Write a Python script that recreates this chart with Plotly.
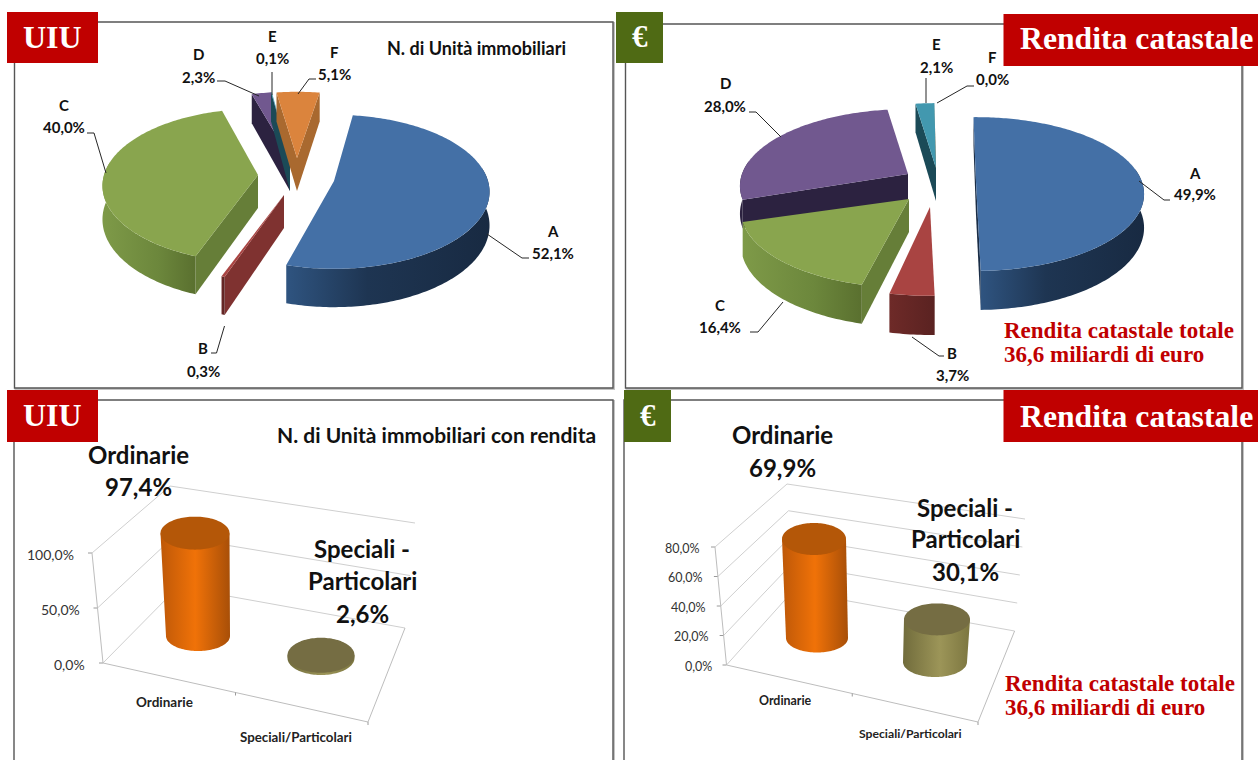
import math
import plotly.graph_objects as go

# ---------- data ----------
pie_categories = ["A", "B", "C", "D", "E", "F"]
uiu_shares = [52.1, 0.3, 40.0, 2.3, 0.1, 5.1]
rendita_shares = [49.9, 3.7, 16.4, 28.0, 2.1, 0.0]
bar_categories = ["Ordinarie", "Speciali/Particolari"]
bar_uiu = [97.4, 2.6]
bar_rendita = [69.9, 30.1]
ticks_uiu = [0, 50, 100]
ticks_rendita = [0, 20, 40, 60, 80]

TOTAL_LINES = ["Rendita catastale totale", "36,6 miliardi di euro"]
SANS = "Lato"
SERIF = "Liberation Serif"

def pct(v):
    return f"{v:.1f}".replace(".", ",") + "%"

fig = go.Figure()
annotations, shapes = [], []

def text(x, y, s, size=15, color="#111111", bold=True, font=SANS, anchor="center", yref="y"):
    annotations.append(dict(x=x, y=y, xref="x", yref=yref, text=f"<b>{s}</b>" if bold else s,
                            showarrow=False, xanchor=anchor, yanchor="middle",
                            font=dict(family=font, size=size, color=color)))

def poly(xs, ys, color=None, grad=None, yaxis="y"):
    kw = dict(fillgradient=dict(type="horizontal", colorscale=grad)) if grad else dict(fillcolor=color)
    fig.add_trace(go.Scatter(x=xs, y=ys, mode="none", fill="toself", yaxis=yaxis,
                             hoverinfo="skip", showlegend=False, **kw))

def line(xs, ys, color="#262626", width=1.0, yaxis="y"):
    fig.add_trace(go.Scatter(x=xs, y=ys, mode="lines", line=dict(color=color, width=width),
                             yaxis=yaxis, hoverinfo="skip", showlegend=False))

# ---------- panels ----------
for x0, y0, x1, y1 in [(14.5, 22, 613, 388), (625.5, 24, 1242, 388), (14, 400, 613, 775), (624, 400, 1242, 775)]:
    shapes.append(dict(type="rect", x0=x0 + 1, y0=y0 + 1, x1=x1 + 1, y1=y1 + 1, xref="x", yref="y",
                       line=dict(color="#C4C4C4", width=2), fillcolor="rgba(0,0,0,0)", layer="below"))
    shapes.append(dict(type="rect", x0=x0, y0=y0, x1=x1, y1=y1, xref="x", yref="y",
                       line=dict(color="#555555", width=1.4), fillcolor="#FFFFFF", layer="below"))
for x0, y0, x1, y1, c in [(7, 12, 98, 63, "#C00000"), (7, 390, 98, 442, "#C00000"),
                          (616, 12, 663, 63, "#4F6A14"), (624, 390, 671, 442, "#4F6A14"),
                          (1003.5, 14, 1258, 66, "#C00000"), (1003.5, 390, 1258, 442, "#C00000")]:
    shapes.append(dict(type="rect", x0=x0, y0=y0, x1=x1, y1=y1, xref="x", yref="y",
                       line=dict(width=0), fillcolor=c, layer="below"))
for x, y in [(52.5, 37), (52.5, 415)]:
    text(x, y, "UIU", size=32, color="#FFFFFF", font=SERIF)
text(640, 36, "€", size=31, color="#FFFFFF", font=SERIF)
text(647.5, 415, "€", size=31, color="#FFFFFF", font=SERIF)
for y in (38, 416):
    text(1136.5, y, "Rendita catastale", size=31.7, color="#FFFFFF", font=SERIF)
for x, y1, y2 in [(1002, 330, 354), (1003, 683, 707)]:
    text(x, y1, TOTAL_LINES[0], size=23, color="#C00000", font=SERIF, anchor="left")
    text(x, y2, TOTAL_LINES[1], size=23, color="#C00000", font=SERIF, anchor="left")

# ---------- exploded perspective pies ----------
def draw_pie(shares, rot, geom, apexes, tops, walls, grads, order, nudge=None, depths=None):
    a, b, p, base_depth = geom
    nudge, depths = nudge or {}, depths or {}
    angles, t = {}, rot
    for c, s in zip(pie_categories, shares):
        angles[c] = (t + nudge.get(c, 0), t + s * 3.6 + nudge.get(c, 0))
        t += s * 3.6
    for c in order:
        t0, t1 = angles[c]
        ax, ay = apexes[c]
        depth = depths.get(c, base_depth)

        def rim(tt):
            u, v = math.sin(math.radians(tt)), math.cos(math.radians(tt))
            w = 1 + p * v
            return ax + a * u / w, ay - b * v / w, depth / w

        def arc(s, e):
            n = max(2, int(abs(e - s)) + 1)
            return [rim(s + (e - s) * i / (n - 1)) for i in range(n)]

        def wall(tt):
            x, y, d = rim(tt)
            poly([ax, x, x, ax, ax], [ay, y, y + d, ay + depth, ay], color=walls[c])

        if math.sin(math.radians(t0)) < 0:
            wall(t0)
        if math.sin(math.radians(t1)) > 0:
            wall(t1)
        s, e = max(t0, 80), min(t1, 280)
        if e > s:
            pts = arc(s, e)
            poly([q[0] for q in pts] + [q[0] for q in reversed(pts)] + [pts[0][0]],
                 [q[1] for q in pts] + [q[1] + q[2] for q in reversed(pts)] + [pts[0][1]],
                 grad=grads[c])
        pts = arc(t0, t1)
        poly([ax] + [q[0] for q in pts] + [ax], [ay] + [q[1] for q in pts] + [ay], color=tops[c])

TOPS = dict(A="#4470A6", B="#A94442", C="#89A54E", D="#71588F", E="#4298AF", F="#DB843D")
WALLS = dict(A="#1A2D46", B="#7F3230", C="#667E38", D="#2C2240", E="#1B4A57", F="#A9692F")
GRADS = dict(A=[[0, "#2F5480"], [0.4, "#1E3552"], [1, "#182A42"]],
             B=[[0, "#6E2A28"], [1, "#5A2221"]],
             C=[[0, "#7E9A48"], [0.6, "#6C873C"], [1, "#5A702F"]],
             D=[[0, "#2C2240"], [1, "#2C2240"]],
             E=[[0, "#1B4A57"], [1, "#1B4A57"]],
             F=[[0, "#A9692F"], [1, "#A9692F"]])

draw_pie(uiu_shares, 9, (154, 75.5, 0.14, 33),
         dict(A=(334, 181), B=(284, 195), C=(258, 175), D=(290, 158), E=(290, 158), F=(297, 158)),
         TOPS, WALLS, GRADS, ["D", "E", "F", "C", "B", "A"],
         nudge=dict(A=-1, B=3, C=3, D=2, E=2, F=1))
draw_pie(rendita_shares, -1, (166, 75, 0.156, 33),
         dict(A=(976, 182), B=(930, 207), C=(909, 199), D=(908, 174), E=(936, 168), F=(936, 168)),
         TOPS, WALLS, GRADS, ["F", "E", "D", "C", "B", "A"],
         nudge=dict(C=2), depths=dict(D=27))

def leader(points, lab, val, c, v):
    line([q[0] for q in points], [q[1] for q in points])
    text(lab[0], lab[1], c)
    text(val[0], val[1], pct(v))

uiu_layout = dict(
    A=([(487, 234), (522, 258), (529, 258)], (552.5, 231), (552.5, 253)),
    B=([(224.5, 326), (216.5, 353), (211, 353)], (203, 348), (203, 371)),
    C=([(106, 173), (94, 133), (87, 133)], (64, 105), (64, 127)),
    D=([(259, 96), (225, 81), (217, 81)], (198, 54), (198, 77)),
    E=([(272, 95), (272, 72)], (272, 36), (272, 58)),
    F=([(298, 94), (309, 79), (316, 79)], (334, 52), (334, 74)))
rendita_layout = dict(
    A=([(1139, 181), (1164, 200), (1170, 200)], (1194.5, 173), (1194.5, 194)),
    B=([(912, 337), (939, 356), (944, 356)], (952, 353), (952, 375)),
    C=([(783, 302), (758, 332), (750, 332)], (719.5, 305), (719.5, 327)),
    D=([(781, 137), (756, 112), (749, 112)], (725, 83), (725, 106)),
    E=([(926, 103), (926, 78)], (936, 44), (936, 67)),
    F=([(937, 103), (967, 86), (974, 86)], (992, 57), (992, 79)))
for c, v in zip(pie_categories, uiu_shares):
    leader(*uiu_layout[c], c, v)
for c, v in zip(pie_categories, rendita_shares):
    leader(*rendita_layout[c], c, v)
text(476, 48, "N. di Unità immobiliari", size=18)
text(436, 434, "N. di Unità immobiliari con rendita", size=21)

# ---------- 3D cylinder charts on value axes ----------
def draw_bars(values, ticks, yname, cfg):
    y0px, k = cfg["y0"], cfg["k"]
    val = lambda px: (y0px - px) / k          # pixel offset expressed on the value axis
    vmax = ticks[-1]
    fl, tfl, tbl, tbr, fr, blb, brb = (cfg[n] for n in ("fl", "tfl", "tbl", "tbr", "fr", "blb", "brb"))
    lerp = lambda p, q, f: (p[0] + (q[0] - p[0]) * f, p[1] + (q[1] - p[1]) * f)
    G = "#CFCFCF"
    for tv in ticks:
        f = tv / vmax
        front = lerp(fl, tfl, f)
        back = lerp(blb, tbl, f)
        right = lerp(brb, tbr, f)
        line([front[0], back[0], right[0]], [val(front[1]), val(back[1]), val(right[1])], color=G, yaxis=yname)
        line([front[0] - 4, front[0]], [val(front[1]), val(front[1])], color="#9A9A9A", yaxis=yname)
        text(front[0] - cfg["lab_dx"], front[1] + 1, pct(tv), size=cfg["tick_size"], color="#333333",
             bold=False, anchor="right")
    line([tfl[0], fl[0]], [val(tfl[1]), val(fl[1])], color="#BDBDBD", yaxis=yname)
    line([fl[0], fr[0], brb[0]], [val(fl[1]), val(fr[1]), val(brb[1])], color="#BDBDBD", yaxis=yname)
    mid = lerp(fl, fr, 0.5)
    line([mid[0], mid[0]], [val(mid[1]), val(mid[1] + 3)], color="#9A9A9A", yaxis=yname)
    line([fr[0], fr[0]], [val(fr[1]), val(fr[1] + 3)], color="#9A9A9A", yaxis=yname)

    styles = [dict(top="#B45708", side=[[0, "#BE5808"], [0.5, "#F07208"], [1, "#A84F08"]]),
              dict(top="#756D43", side=[[0, "#716C3C"], [0.55, "#9C9558"], [1, "#7C7640"]])]
    for v, base, st in zip(values, cfg["cyl"], styles):
        bx, by, rx, ry, tx, trx, try_ = base
        h = v * cfg["foreshorten"]
        ang = [math.radians(i * 3) for i in range(121)]
        lower = [math.radians(i * 3) for i in range(61)]      # front half of the base
        xs = [bx + rx * math.cos(q) for q in lower] + [tx - trx, tx + trx, bx + rx]
        ys = [val(by) - ry / k * math.sin(q) for q in lower] + [val(by) + h, val(by) + h, val(by)]
        poly(xs, ys, grad=st["side"], yaxis=yname)
        poly([tx + trx * math.cos(q) for q in ang],
             [val(by) + h + try_ / k * math.sin(q) for q in ang], color=st["top"], yaxis=yname)
    for (x, y), s, size in cfg["cat_labels"]:
        text(x, y, s, size=size, color="#222222")

cfg_uiu = dict(y0=663, k=1.1, fl=(103, 663), tfl=(92, 553), tbl=(170, 486), tbr=(415, 523), fr=(368, 722),
               blb=(178, 587), brb=(405, 628), lab_dx=16, tick_size=14, foreshorten=0.96,
               cyl=[(198, 636, 32, 15, 195, 34.5, 16.5), (321, 658, 33.5, 17, 321, 33.5, 17.5)],
               cat_labels=[((164, 702), bar_categories[0], 13.5), ((296, 737), bar_categories[1], 13.3)])
cfg_rendita = dict(y0=665, k=1.475, fl=(726.5, 665), tfl=(715, 547), tbl=(787, 484), tbr=(1025, 519), fr=(978, 722),
                   blb=(793, 591), brb=(1014.6, 631), lab_dx=13, tick_size=12.5, foreshorten=0.96,
                   cyl=[(817, 638, 31, 14.5, 814, 32, 16), (935, 662, 32, 15, 937, 33, 16)],
                   cat_labels=[((785, 700), bar_categories[0], 12.4), ((910, 733), bar_categories[1], 12.2)])
draw_bars(bar_uiu, ticks_uiu, "y2", cfg_uiu)
draw_bars(bar_rendita, ticks_rendita, "y3", cfg_rendita)

text(138, 454, bar_categories[0], size=24)
text(138, 486, pct(bar_uiu[0]), size=24)
text(362, 548, "Speciali -", size=24)
text(362, 580, "Particolari", size=24)
text(362, 613, pct(bar_uiu[1]), size=24)
text(782, 434, bar_categories[0], size=24)
text(782, 467, pct(bar_rendita[0]), size=24)
text(965.4, 507, "Speciali -", size=24)
text(965.4, 538, "Particolari", size=24)
text(965.4, 571, pct(bar_rendita[1]), size=24)

hidden = dict(visible=False, fixedrange=True)
fig.update_layout(
    width=1258, height=760, margin=dict(l=0, r=0, t=0, b=0), showlegend=False,
    paper_bgcolor="#FFFFFF", plot_bgcolor="#FFFFFF",
    xaxis=dict(range=[0, 1258], **hidden),
    yaxis=dict(range=[760, 0], **hidden),
    yaxis2=dict(range=[(663 - 760) / 1.1, 663 / 1.1], overlaying="y", **hidden),
    yaxis3=dict(range=[(665 - 760) / 1.475, 665 / 1.475], overlaying="y", **hidden),
    annotations=annotations, shapes=shapes,
)
fig.write_html("out.html", config=dict(displayModeBar=False),
               post_script="document.body.style.margin='0';document.documentElement.style.overflow='hidden';")
